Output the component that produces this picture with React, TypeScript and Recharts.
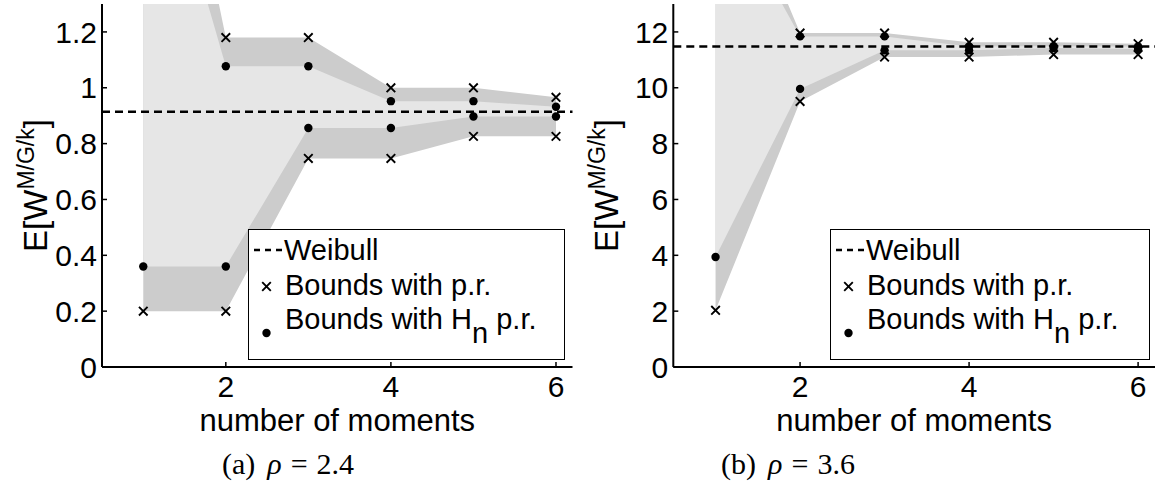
import React from 'react';
import { ComposedChart, Area, Line, XAxis, YAxis, ReferenceLine, Legend } from 'recharts';

// Number of moments matched (x axis)
const moments = [1, 2, 3, 4, 5, 6];
const xTicks = [2, 4, 6];

// Panel (a): rho = 2.4
const prUpperA = [2.61, 1.18, 1.18, 1.0, 1.0, 0.966];
const hnUpperA = [2.1, 1.077, 1.077, 0.952, 0.952, 0.932];
const hnLowerA = [0.36, 0.36, 0.856, 0.856, 0.897, 0.897];
const prLowerA = [0.2, 0.2, 0.747, 0.747, 0.826, 0.826];
const weibullA = 0.914;
const yTicksA = [0, 0.2, 0.4, 0.6, 0.8, 1, 1.2];

// Panel (b): rho = 3.6
const prUpperB = [19.2, 11.96, 11.96, 11.63, 11.63, 11.58];
const hnUpperB = [17.3, 11.84, 11.84, 11.48, 11.49, 11.48];
const hnLowerB = [3.94, 9.96, 11.34, 11.34, 11.42, 11.39];
const prLowerB = [2.03, 9.51, 11.1, 11.1, 11.19, 11.19];
const weibullB = 11.48;
const yTicksB = [0, 2, 4, 6, 8, 10, 12];

const SANS = '"Liberation Sans", Arial, Helvetica, sans-serif';
const SERIF = '"Liberation Serif", "DejaVu Serif", serif';
const FS_TICK = 30;
const FS_TEXT = 31;
const FS_LEGEND = 29;
const DARK = '#cccccc';
const LIGHT = '#e6e6e6';

type Row = { m: number; pr: [number, number]; hn: [number, number]; prU: number; hnU: number; hnL: number; prL: number };

const buildRows = (prU: number[], hnU: number[], hnL: number[], prL: number[]): Row[] =>
  moments.map((m, i) => ({
    m,
    pr: [prL[i], prU[i]],
    hn: [hnL[i], hnU[i]],
    prU: prU[i],
    hnU: hnU[i],
    hnL: hnL[i],
    prL: prL[i],
  }));

const crossDot = (props: any) => {
  const { cx, cy, index, dataKey } = props;
  if (cx == null || cy == null) return <g key={`c-${dataKey}-${index}`} />;
  const s = 4.3;
  return (
    <path
      key={`c-${dataKey}-${index}`}
      d={`M${cx - s},${cy - s}L${cx + s},${cy + s}M${cx + s},${cy - s}L${cx - s},${cy + s}`}
      stroke="#000"
      strokeWidth={1.9}
      fill="none"
    />
  );
};

const fullDot = (props: any) => {
  const { cx, cy, index, dataKey } = props;
  if (cx == null || cy == null) return <g key={`d-${dataKey}-${index}`} />;
  return <circle key={`d-${dataKey}-${index}`} cx={cx} cy={cy} r={4.2} fill="#000" />;
};

const YLabel = (props: any) => {
  const vb = props.viewBox || {};
  const x = vb.x + vb.width - 55;
  const y = vb.y + vb.height / 2;
  return (
    <text
      x={x}
      y={y}
      transform={`rotate(-90 ${x} ${y})`}
      textAnchor="middle"
      fontFamily={SANS}
      fontSize={33}
      fill="#000"
    >
      E[W
      <tspan fontSize={23} dy={-13}>M/G/k</tspan>
      <tspan dy={13}>]</tspan>
    </text>
  );
};

const XLabel = (props: any) => {
  const vb = props.viewBox || {};
  return (
    <text
      x={vb.x + vb.width / 2}
      y={vb.y + 64}
      textAnchor="middle"
      fontFamily={SANS}
      fontSize={FS_TEXT}
      fill="#000"
    >
      number of moments
    </text>
  );
};

const LegendBox = ({ width, height }: { width: number; height: number }) => (
  <div
    style={{
      width,
      height,
      boxSizing: 'border-box',
      border: '1.5px solid #000',
      background: '#fff',
    }}
  >
    <svg width={width - 3} height={height - 3} style={{ display: 'block' }}>
      <line x1={5} x2={33} y1={20} y2={20} stroke="#000" strokeWidth={2.5} strokeDasharray="6 5" />
      <text x={35} y={30} fontFamily={SANS} fontSize={FS_LEGEND} fill="#000">Weibull</text>
      <path d="M13.2,52.2L21.8,60.8M21.8,52.2L13.2,60.8" stroke="#000" strokeWidth={1.9} />
      <text x={36} y={65} fontFamily={SANS} fontSize={FS_LEGEND} fill="#000">Bounds with p.r.</text>
      <circle cx={17.5} cy={103} r={4.2} fill="#000" />
      <text x={36} y={99} fontFamily={SANS} fontSize={FS_LEGEND} fill="#000">
        Bounds with H
        <tspan dy={14}>n</tspan>
        <tspan dy={-14}> p.r.</tspan>
      </text>
    </svg>
  </div>
);

type PanelProps = {
  rows: Row[];
  yMax: number;
  yTicks: number[];
  weibull: number;
  width: number;
  yAxisWidth: number;
  marginRight: number;
  legendLeft: number;
  legendWidth: number;
};

const Panel = ({ rows, yMax, yTicks, weibull, width, yAxisWidth, marginRight, legendLeft, legendWidth }: PanelProps) => {
  const axisLine = { stroke: '#000', strokeWidth: 2 };
  const tickLine = { stroke: '#000', strokeWidth: 1.5 };
  const tickText = { fill: '#000', fontSize: FS_TICK, fontFamily: SANS };
  return (
    <ComposedChart
      width={width}
      height={485}
      data={rows}
      margin={{ top: 4, right: marginRight, bottom: 0, left: 0 }}
    >
      <XAxis
        xAxisId="b"
        dataKey="m"
        type="number"
        domain={[0.5, 6.2]}
        ticks={xTicks}
        allowDataOverflow
        height={118}
        axisLine={axisLine}
        tickLine={tickLine}
        tickSize={-5}
        tickMargin={14}
        tick={tickText}
        label={XLabel}
      />
      <XAxis
        xAxisId="t"
        orientation="top"
        dataKey="m"
        type="number"
        domain={[0.5, 6.2]}
        ticks={xTicks}
        allowDataOverflow
        height={0}
        axisLine={axisLine}
        tickLine={tickLine}
        tickSize={-5}
        tick={false}
      />
      <YAxis
        yAxisId="l"
        type="number"
        domain={[0, yMax]}
        ticks={yTicks}
        allowDataOverflow
        width={yAxisWidth}
        axisLine={axisLine}
        tickLine={tickLine}
        tickSize={-5}
        tickMargin={10}
        tick={tickText}
        interval={0}
        label={YLabel}
      />
      <YAxis
        yAxisId="r"
        orientation="right"
        type="number"
        domain={[0, yMax]}
        ticks={yTicks}
        allowDataOverflow
        width={0}
        axisLine={axisLine}
        tickLine={tickLine}
        tickSize={-5}
        tick={false}
        interval={0}
      />
      <Area
        xAxisId="b"
        yAxisId="l"
        type="linear"
        dataKey="pr"
        stroke="none"
        fill={DARK}
        fillOpacity={1}
        dot={false}
        activeDot={false}
        isAnimationActive={false}
      />
      <Area
        xAxisId="b"
        yAxisId="l"
        type="linear"
        dataKey="hn"
        stroke="none"
        fill={LIGHT}
        fillOpacity={1}
        dot={false}
        activeDot={false}
        isAnimationActive={false}
      />
      <ReferenceLine
        xAxisId="b"
        yAxisId="l"
        y={weibull}
        stroke="#000"
        strokeWidth={2.5}
        strokeDasharray="8 5"
      />
      <Line xAxisId="b" yAxisId="l" dataKey="prU" stroke="none" dot={crossDot} activeDot={false} isAnimationActive={false} />
      <Line xAxisId="b" yAxisId="l" dataKey="prL" stroke="none" dot={crossDot} activeDot={false} isAnimationActive={false} />
      <Line xAxisId="b" yAxisId="l" dataKey="hnU" stroke="none" dot={fullDot} activeDot={false} isAnimationActive={false} />
      <Line xAxisId="b" yAxisId="l" dataKey="hnL" stroke="none" dot={fullDot} activeDot={false} isAnimationActive={false} />
      <Legend
        layout="vertical"
        align="center"
        verticalAlign="middle"
        content={() => <LegendBox width={legendWidth} height={131} />}
        wrapperStyle={{ position: 'absolute', left: legendLeft, top: 229, width: legendWidth, height: 131 }}
      />
    </ComposedChart>
  );
};

const Caption = ({ label, value, center }: { label: string; value: string; center: number }) => (
  <div
    style={{
      position: 'absolute',
      left: center - 150,
      width: 300,
      top: 446,
      textAlign: 'center',
      fontFamily: SERIF,
      fontSize: 30,
      lineHeight: '36px',
      color: '#000',
      whiteSpace: 'nowrap',
    }}
  >
    {label}
    <span style={{ marginLeft: 12, fontStyle: 'italic' }}>ρ</span>
    <span style={{ margin: '0 9px' }}>=</span>
    {value}
  </div>
);

export default function App() {
  const rowsA = buildRows(prUpperA, hnUpperA, hnLowerA, prLowerA);
  const rowsB = buildRows(prUpperB, hnUpperB, hnLowerB, prLowerB);
  return (
    <div style={{ position: 'absolute', left: 0, top: 0, width: 1159, height: 485, background: '#fff', overflow: 'hidden' }}>
      <div style={{ position: 'absolute', left: 0, top: 0 }}>
        <Panel
          rows={rowsA}
          yMax={1.3}
          yTicks={yTicksA}
          weibull={weibullA}
          width={580}
          yAxisWidth={102}
          marginRight={7.5}
          legendLeft={248}
          legendWidth={317}
        />
      </div>
      <div style={{ position: 'absolute', left: 580, top: 0 }}>
        <Panel
          rows={rowsB}
          yMax={13}
          yTicks={yTicksB}
          weibull={weibullB}
          width={579}
          yAxisWidth={93.3}
          marginRight={4}
          legendLeft={250}
          legendWidth={320}
        />
      </div>
      <Caption label="(a)" value="2.4" center={288} />
      <Caption label="(b)" value="3.6" center={788} />
    </div>
  );
}
